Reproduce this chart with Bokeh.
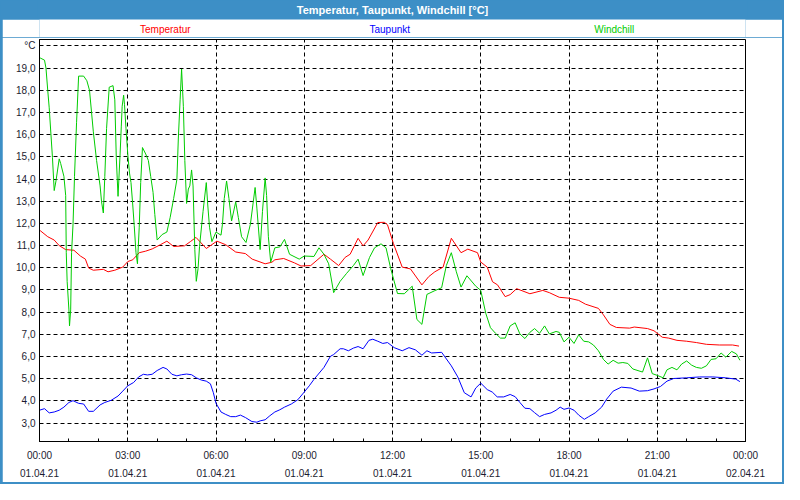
from bokeh.plotting import figure
from bokeh.models import FixedTicker, Range1d
from bokeh.layouts import column
from bokeh.embed import file_html
from bokeh.resources import INLINE
from bokeh.core.properties import value

TITLE = "Temperatur, Taupunkt, Windchill [°C]"
series_names = ["Temperatur", "Taupunkt", "Windchill"]

x_tick_hours = [0, 3, 6, 9, 12, 15, 18, 21, 24]
x_tick_labels = ["00:00\n01.04.21", "03:00\n01.04.21", "06:00\n01.04.21", "09:00\n01.04.21",
                 "12:00\n01.04.21", "15:00\n01.04.21", "18:00\n01.04.21", "21:00\n01.04.21",
                 "00:00\n02.04.21"]
x_minor_hours = list(range(0, 25))
y_ticks = [3, 4, 5, 6, 7, 8, 9, 10, 11, 12, 13, 14, 15, 16, 17, 18, 19, 20]
y_tick_labels = ["3,0", "4,0", "5,0", "6,0", "7,0", "8,0", "9,0", "10,0", "11,0", "12,0",
                 "13,0", "14,0", "15,0", "16,0", "17,0", "18,0", "19,0", "°C"]

# Temperatur (hours, °C)
temp_h = [0.02, 0.28, 0.5, 0.67, 0.89, 1.17, 1.39, 1.56, 1.67, 1.83, 2.17, 2.33, 2.56, 2.83, 3.0,
          3.17, 3.39, 3.61, 3.83, 4.11, 4.33, 4.56, 4.93, 5.13, 5.32, 5.67, 6.03, 6.33, 6.67, 7.0,
          7.23, 7.67, 7.9, 8.0, 8.3, 8.67, 8.89, 9.22, 9.67, 9.89, 10.17, 10.39, 10.56, 10.83, 11.0,
          11.17, 11.5, 11.72, 11.83, 12.03, 12.33, 12.61, 13.0, 13.23, 13.44, 13.72, 14.0, 14.33,
          14.56, 14.89, 15.0, 15.22, 15.4, 15.57, 15.83, 16.0, 16.22, 16.67, 17.11, 17.33, 17.67,
          18.0, 18.33, 18.56, 19.0, 19.17, 19.39, 19.61, 20.06, 20.22, 20.67, 20.89, 21.17, 21.39,
          21.67, 22.0, 22.33, 22.67, 23.11, 23.56, 23.78]
temp = [11.68, 11.40, 11.25, 11.0, 10.82, 10.79, 10.53, 10.39, 9.99, 9.89, 9.93, 9.82, 9.89, 10.03,
        10.28, 10.36, 10.68, 10.75, 10.85, 11.04, 11.2, 10.96, 10.99, 11.18, 11.37, 10.87, 11.2,
        11.04, 10.71, 10.64, 10.39, 10.18, 10.25, 10.36, 10.42, 10.22, 10.08, 10.10, 10.61, 10.39,
        10.10, 10.47, 10.61, 11.33, 10.99, 11.25, 12.04, 12.05, 11.94, 11.1, 10.03, 9.95, 9.23,
        9.6, 9.82, 10.03, 11.33, 10.68, 10.84, 10.68, 10.26, 10.03, 9.37, 9.23, 8.70, 8.79, 9.06,
        8.83, 8.98, 8.88, 8.67, 8.63, 8.53, 8.36, 8.17, 7.88, 7.45, 7.31, 7.28, 7.33, 7.26, 7.16,
        6.87, 6.83, 6.73, 6.69, 6.63, 6.55, 6.52, 6.52, 6.47]

# Taupunkt (hours, °C)
dew_h = [0.0, 0.17, 0.33, 0.5, 0.67, 0.83, 1.0, 1.14, 1.33, 1.5, 1.67, 1.83, 2.06, 2.22, 2.44,
         2.67, 2.83, 3.0, 3.2, 3.37, 3.53, 3.67, 3.83, 4.0, 4.2, 4.33, 4.5, 4.67, 4.83, 5.0, 5.17,
         5.33, 5.5, 5.67, 5.81, 5.91, 6.0, 6.17, 6.33, 6.5, 6.67, 6.83, 7.0, 7.22, 7.39, 7.5, 7.67,
         7.83, 8.0, 8.17, 8.33, 8.56, 8.78, 9.0, 9.17, 9.33, 9.67, 9.89, 10.0, 10.22, 10.33, 10.5,
         10.67, 10.83, 11.0, 11.2, 11.33, 11.5, 11.67, 11.83, 12.06, 12.33, 12.56, 12.78, 13.0,
         13.17, 13.33, 13.67, 14.0, 14.22, 14.44, 14.67, 14.83, 15.0, 15.22, 15.39, 15.56, 15.78,
         16.0, 16.17, 16.33, 16.5, 16.67, 16.83, 17.0, 17.17, 17.39, 17.56, 17.7, 17.83, 18.0,
         18.17, 18.33, 18.52, 18.67, 18.89, 19.11, 19.28, 19.5, 19.78, 20.11, 20.39, 20.67, 20.89,
         21.11, 21.33, 21.56, 22.0, 22.44, 22.89, 23.33, 23.67, 23.81]
dew = [3.58, 3.65, 3.46, 3.50, 3.58, 3.72, 3.93, 4.01, 3.89, 3.86, 3.53, 3.53, 3.82, 3.93, 4.03,
       4.22, 4.44, 4.68, 4.83, 5.08, 5.20, 5.17, 5.20, 5.37, 5.51, 5.44, 5.20, 5.13, 5.18, 5.21,
       5.18, 5.04, 4.94, 4.89, 4.77, 4.37, 3.89, 3.50, 3.39, 3.29, 3.29, 3.36, 3.25, 3.07, 3.04,
       3.10, 3.15, 3.33, 3.50, 3.60, 3.72, 3.86, 4.05, 4.40, 4.68, 4.97, 5.51, 6.01, 6.09, 6.35,
       6.35, 6.26, 6.38, 6.45, 6.35, 6.73, 6.78, 6.69, 6.59, 6.63, 6.40, 6.26, 6.40, 6.30, 6.06,
       6.26, 6.16, 6.19, 5.58, 5.08, 4.37, 4.18, 4.58, 4.80, 4.51, 4.40, 4.18, 4.18, 4.29, 4.19,
       3.93, 3.67, 3.65, 3.47, 3.29, 3.39, 3.46, 3.58, 3.72, 3.62, 3.68, 3.58, 3.36, 3.17, 3.29,
       3.46, 3.72, 4.08, 4.44, 4.62, 4.58, 4.44, 4.46, 4.54, 4.65, 4.89, 5.01, 5.04, 5.08, 5.08,
       5.04, 4.98, 4.87]

# Windchill (hours, °C)
wind_h = [0.02, 0.17, 0.22, 0.28, 0.33, 0.39, 0.44, 0.5, 0.56, 0.67, 0.72, 0.83, 0.89, 0.91, 0.94,
          1.0, 1.02, 1.06, 1.09, 1.14, 1.19, 1.26, 1.33, 1.5, 1.61, 1.7, 1.83, 1.94, 2.06, 2.11,
          2.17, 2.22, 2.28, 2.37, 2.5, 2.56, 2.61, 2.67, 2.74, 2.78, 2.81, 2.86, 2.89, 2.94, 3.0,
          3.06, 3.11, 3.17, 3.22, 3.28, 3.33, 3.39, 3.44, 3.5, 3.61, 3.7, 3.78, 3.86, 3.92, 4.0,
          4.17, 4.33, 4.44, 4.56, 4.67, 4.72, 4.78, 4.83, 4.89, 4.94, 5.0, 5.06, 5.11, 5.17, 5.22,
          5.28, 5.33, 5.39, 5.44, 5.56, 5.67, 5.72, 5.78, 5.86, 6.0, 6.17, 6.22, 6.28, 6.36, 6.44,
          6.53, 6.67, 6.76, 6.87, 7.02, 7.17, 7.33, 7.39, 7.5, 7.58, 7.67, 7.72, 7.78, 7.86, 8.0,
          8.17, 8.33, 8.5, 8.83, 9.0, 9.33, 9.5, 9.67, 9.83, 10.0, 10.22, 10.44, 10.67, 10.83, 11.0,
          11.22, 11.39, 11.61, 11.78, 11.94, 12.17, 12.4, 12.67, 12.83, 13.0, 13.17, 13.44, 13.67,
          13.83, 14.0, 14.17, 14.33, 14.53, 14.83, 15.0, 15.17, 15.33, 15.5, 15.67, 15.83, 16.0,
          16.17, 16.33, 16.5, 16.67, 16.83, 17.0, 17.17, 17.33, 17.56, 17.67, 17.83, 18.0, 18.17,
          18.33, 18.5, 18.67, 18.83, 19.0, 19.17, 19.33, 19.5, 19.67, 19.83, 20.0, 20.17, 20.5,
          20.67, 20.83, 21.0, 21.2, 21.33, 21.5, 21.67, 21.83, 22.0, 22.17, 22.33, 22.5, 22.67,
          22.83, 23.0, 23.17, 23.33, 23.53, 23.69, 23.81]
wind = [19.46, 19.36, 19.0, 18.0, 17.21, 15.99, 14.98, 13.48, 13.91, 14.91, 14.70, 14.12, 13.26,
        10.68, 9.39, 8.10, 7.38, 8.10, 10.68, 11.97, 14.12, 16.56, 18.64, 18.64, 18.43, 18.0,
        16.13, 14.84, 13.69, 12.97, 12.47, 14.12, 16.28, 18.14, 18.21, 17.57, 14.98, 13.22, 15.13,
        16.35, 17.28, 17.78, 17.35, 16.28, 15.13, 14.27, 13.84, 12.83, 11.90, 10.68, 10.18, 11.83,
        13.84, 15.42, 15.13, 14.84, 14.12, 13.40, 12.40, 11.25, 11.50, 11.61, 12.26, 13.12, 13.98,
        15.85, 17.57, 18.96, 17.28, 14.84, 12.90, 13.55, 13.69, 14.41, 13.69, 10.82, 9.39, 9.96,
        10.96, 12.54, 13.84, 12.83, 11.83, 11.18, 11.61, 11.47, 11.97, 13.12, 13.91, 13.12, 12.11,
        12.97, 12.26, 11.40, 11.14, 11.97, 13.62, 12.69, 10.82, 12.54, 14.05, 13.26, 11.40, 10.25,
        10.90, 10.94, 11.28, 10.61, 10.39, 10.53, 10.51, 10.90, 10.61, 10.18, 8.88, 9.39, 9.75,
        10.10, 10.39, 9.65, 10.47, 10.90, 11.08, 10.90, 9.96, 8.84, 8.83, 9.17, 7.67, 7.45, 8.80,
        8.97, 9.10, 10.10, 10.68, 9.82, 9.13, 9.64, 9.17, 8.98, 7.95, 7.30, 7.05, 6.83, 6.83, 7.38,
        7.52, 7.02, 6.81, 7.09, 7.26, 7.05, 7.38, 7.02, 7.13, 7.09, 6.66, 6.87, 6.59, 6.98, 6.69,
        6.66, 6.52, 6.26, 5.87, 5.66, 5.83, 5.70, 5.73, 5.69, 5.44, 5.30, 5.94, 5.23, 5.15, 5.04,
        5.40, 5.51, 5.40, 5.66, 5.80, 5.61, 5.51, 5.47, 5.58, 5.87, 5.90, 6.16, 5.97, 6.23, 6.12,
        5.83]

BAR = "#3d8fc6"
RED = "#ff0000"
BLUE = "#0000ff"
GREEN = "#00cc00"
FONT = "Liberation Sans"
LABEL_COLOR = "#1c1c30"

# ---- header bar ----
head = figure(width=784, height=19, x_range=(0, 1), y_range=(0, 1), toolbar_location=None,
              output_backend="svg", x_axis_location=None, y_axis_location=None,
              title_location=None, min_border=0, background_fill_color=BAR,
              border_fill_color=BAR, outline_line_color=None)
head.grid.visible = False
head.text(x=[0.5], y=[0.5], text=[TITLE], text_color="white", text_font=value(FONT),
          text_font_style="bold", text_font_size="11px", text_align="center",
          text_baseline="middle")

# ---- legend strip (coloured series names) ----
legend = figure(width=780, height=18, x_range=(0, 780), y_range=(0, 18), toolbar_location=None,
                output_backend="svg", x_axis_location=None, y_axis_location=None,
                title_location=None, min_border=0, background_fill_color="white",
                border_fill_color="white", outline_line_color=None, margin=(0, 2, 0, 2))
legend.grid.visible = False
legend.text(x=[139, 387, 635], y=[8, 8, 8], text=series_names, text_color=[RED, BLUE, GREEN],
            text_font=value(FONT), text_font_size="10px", text_align="center",
            text_baseline="middle")

# ---- main chart ----
p = figure(width=780, height=445, x_range=Range1d(0, 24), y_range=Range1d(2.17, 20.29),
           toolbar_location=None, output_backend="svg", title_location=None,
           min_border_left=37, min_border_right=37, min_border_top=2, min_border_bottom=36,
           margin=(0, 2, 2, 2), outline_line_color="black", outline_line_width=1,
           background_fill_color="white", border_fill_color="white")

p.xaxis.ticker = FixedTicker(ticks=x_tick_hours, minor_ticks=x_minor_hours)
p.xaxis.major_label_overrides = {h: lab for h, lab in zip(x_tick_hours, x_tick_labels)}
p.xaxis.major_tick_in = 3
p.xaxis.major_tick_out = 0
p.xaxis.minor_tick_in = 3
p.xaxis.minor_tick_out = 0
p.xaxis.major_label_standoff = 8
p.xaxis.major_label_text_line_height = 1.7

p.yaxis.ticker = FixedTicker(ticks=y_ticks)
p.yaxis.major_label_overrides = {t: lab for t, lab in zip(y_ticks, y_tick_labels)}
p.yaxis.major_tick_in = 0
p.yaxis.major_tick_out = 0
p.yaxis.major_label_standoff = 4

for ax in (p.xaxis, p.yaxis):
    ax.axis_line_color = "black"
    ax.major_tick_line_color = "black"
    ax.minor_tick_line_color = "black"
    ax.major_label_text_font = FONT
    ax.major_label_text_font_size = "10px"
    ax.major_label_text_color = LABEL_COLOR
p.yaxis.minor_tick_line_color = None

p.xgrid.ticker = FixedTicker(ticks=x_tick_hours)
p.ygrid.ticker = FixedTicker(ticks=y_ticks)
for g in (p.xgrid, p.ygrid):
    g.grid_line_color = "black"
    g.grid_line_dash = "4 3"
    g.grid_line_width = 1

p.line(temp_h, temp, line_color=RED, line_width=1)
p.line(dew_h, dew, line_color=BLUE, line_width=1)
p.line(wind_h, wind, line_color=GREEN, line_width=1)

layout = column(head, legend, p, spacing=0, styles={"background-color": BAR})

open("out.html", "w").write(file_html(layout, INLINE))
